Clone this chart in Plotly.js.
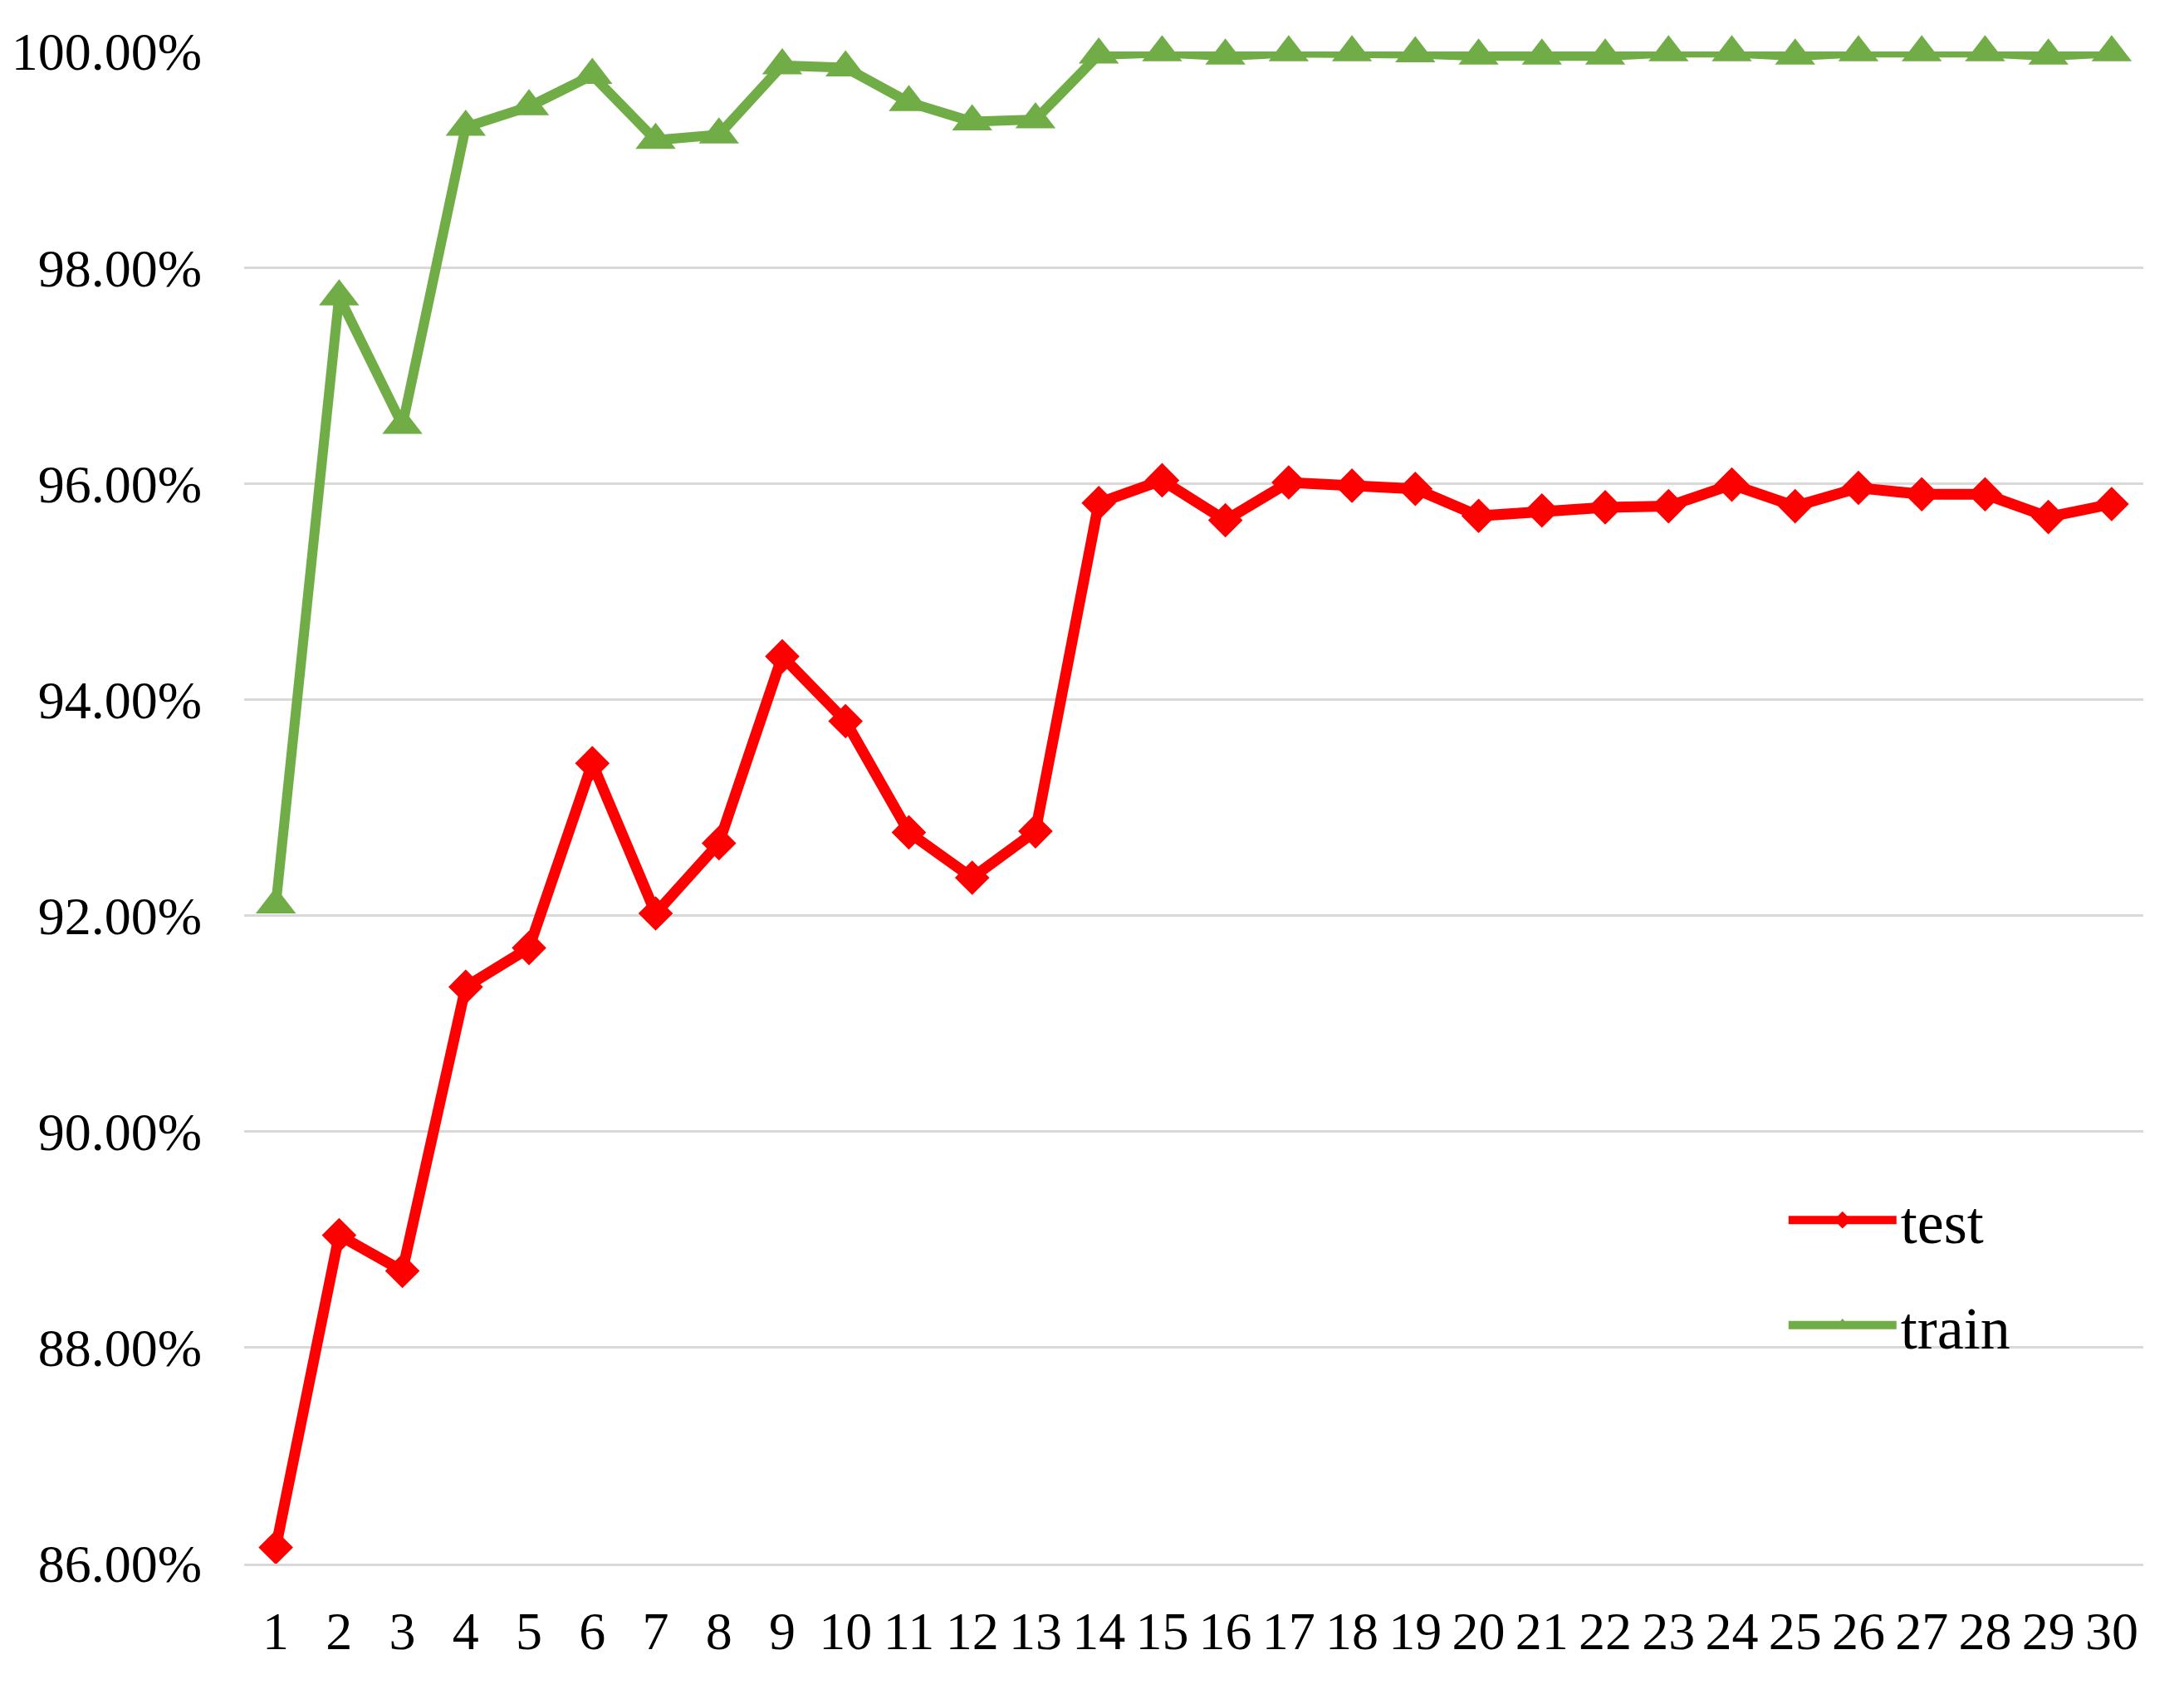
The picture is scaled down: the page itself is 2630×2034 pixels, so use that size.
<!DOCTYPE html>
<html>
<head>
<meta charset="utf-8">
<script src="https://cdn.plot.ly/plotly-3.0.1.min.js"></script>
<style>
  html, body { margin: 0; padding: 0; background: #ffffff; }
  #chart { width: 2630px; height: 2034px; }
</style>
</head>
<body>
<div id="chart"></div>
<script>
// Epochs (x categories)
const epochs = [1,2,3,4,5,6,7,8,9,10,11,12,13,14,15,16,17,18,19,20,21,22,23,24,25,26,27,28,29,30];

// Test accuracy (%)
const testAcc = [86.15, 89.04, 88.71, 91.34, 91.70, 93.41, 92.02, 92.67, 94.40, 93.80,
                 92.77, 92.35, 92.78, 95.82, 96.03, 95.66, 96.01, 95.98, 95.95, 95.70,
                 95.75, 95.78, 95.79, 95.99, 95.79, 95.96, 95.90, 95.90, 95.69, 95.81];

// Train accuracy (%)
const trainAcc = [92.10, 97.73, 96.54, 99.30, 99.49, 99.78, 99.18, 99.23, 99.87, 99.85,
                  99.53, 99.35, 99.37, 99.97, 99.99, 99.96, 99.99, 99.99, 99.98, 99.96,
                  99.96, 99.96, 99.99, 99.99, 99.96, 99.99, 99.99, 99.99, 99.96, 99.99];

// Y axis tick values (%)
const yTicks = [86, 88, 90, 92, 94, 96, 98, 100];
const yTickText = yTicks.map(v => v.toFixed(2) + '%');

const seriesNames = ['test', 'train'];

const FONT = 'Liberation Serif, Times New Roman, serif';

const traces = [
  {
    x: epochs, y: testAcc, name: seriesNames[0], type: 'scatter', mode: 'lines+markers',
    legendgroup: 'g1', cliponaxis: false,
    line: { color: '#ff0000', width: 13 },
    marker: { symbol: 'diamond', size: 32, color: '#ff0000', line: { width: 0 } }
  },
  {
    x: epochs, y: trainAcc, name: seriesNames[1], type: 'scatter', mode: 'lines+markers',
    legendgroup: 'g2', cliponaxis: false,
    line: { color: '#70ad47', width: 12 },
    marker: { symbol: 'triangle-up', size: 42, color: '#70ad47', line: { width: 0 } }
  }
];

const layout = {
  width: 2630, height: 2034,
  paper_bgcolor: '#ffffff', plot_bgcolor: '#ffffff',
  margin: { l: 294, r: 49, t: 62, b: 151, pad: 0 },
  font: { family: FONT, color: '#000000', size: 64 },
  showlegend: true,
  legend: {
    x: 0.811, y: 0.2565, xanchor: 'left', yanchor: 'top',
    bgcolor: 'rgba(0,0,0,0)', borderwidth: 0,
    font: { family: FONT, size: 72, color: '#000000' },
    traceorder: 'grouped', tracegroupgap: 30,
    itemwidth: 130
  },
  xaxis: {
    range: [0.5, 30.5],
    tickmode: 'array', tickvals: epochs, ticktext: epochs.map(String),
    showgrid: false, zeroline: false,
    showline: true, linecolor: '#d9d9d9', linewidth: 3,
    ticks: '', ticklabelstandoff: 23,
    tickfont: { family: FONT, size: 64, color: '#000000' }
  },
  yaxis: {
    range: [86, 100],
    tickmode: 'array', tickvals: yTicks, ticktext: yTickText,
    showgrid: true, gridcolor: '#d9d9d9', gridwidth: 3,
    zeroline: false, showline: false,
    ticks: '', ticklabelstandoff: 50,
    tickfont: { family: FONT, size: 64, color: '#000000' }
  }
};

Plotly.newPlot('chart', traces, layout, { displayModeBar: false, staticPlot: true });
</script>
</body>
</html>
